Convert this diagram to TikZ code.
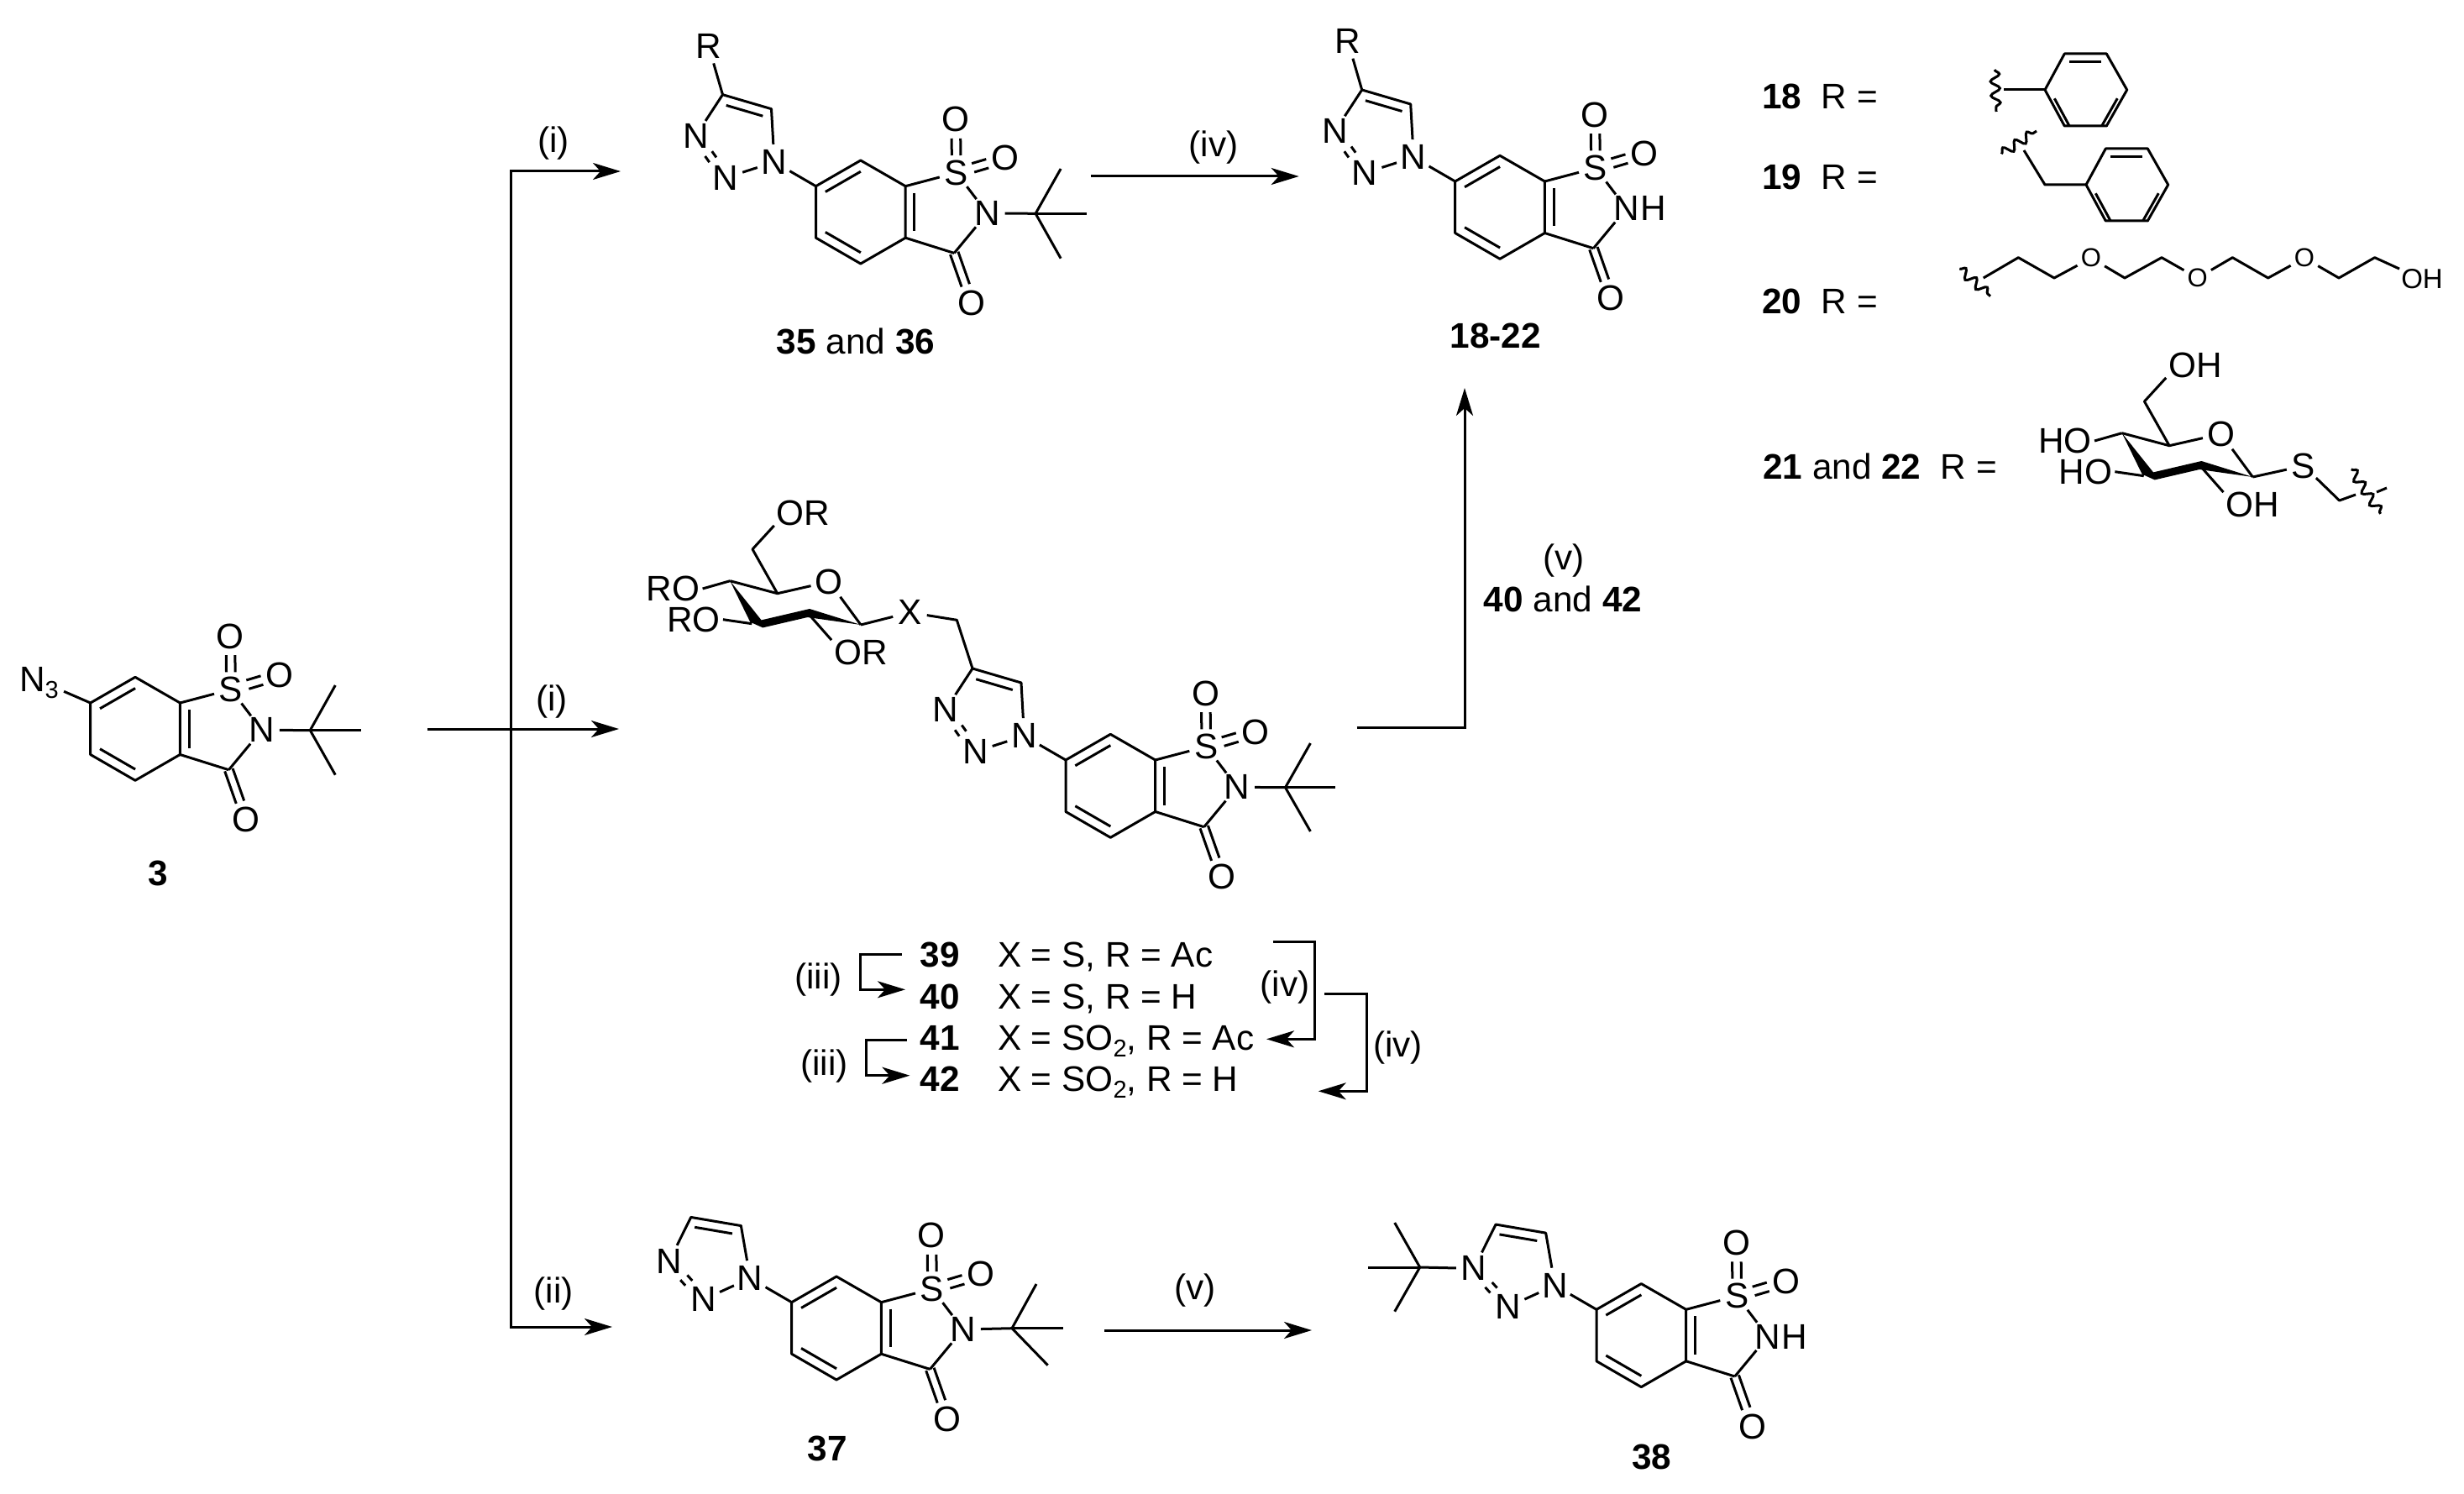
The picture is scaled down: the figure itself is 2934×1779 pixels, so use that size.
\documentclass[tikz,border=0pt]{standalone}
\usepackage{fontspec}
\setmainfont{Liberation Sans}
\usetikzlibrary{arrows.meta,decorations.pathmorphing}

\newcommand{\schemefont}{\fontsize{42.3}{42.3}\selectfont}
\newcommand{\subs}[1]{\raisebox{-8pt}{\fontsize{29}{29}\selectfont #1}}

\tikzset{
	atom/.style={circle,inner sep=0pt,minimum size=41pt},
	atomsm/.style={circle,inner sep=0pt,minimum size=37pt,font=\fontsize{31}{31}\selectfont},
	chemlabel/.style={inner xsep=3pt,inner ysep=0pt},
	txtline/.style={anchor=base west,inner sep=0pt},
	cmpd/.style={inner sep=0pt,font=\schemefont\bfseries},
	cond/.style={inner sep=0pt},
	bond/.style={line width=3pt,line join=round},
	inring/.style n args={3}{transform canvas={xshift=#1pt,yshift=#2pt},shorten >=#3pt,shorten <=#3pt},
	wavy/.style={line width=3pt,decorate,decoration={snake,segment length=17pt,amplitude=5.5pt}},
	rxn/.style={line width=3pt,-{Stealth[length=33pt,width=20pt,inset=9pt]}}
}

% benzisothiazole core, origin on the carbon that carries the substituent
\newcommand{\sacc}[2]{%
\begin{scope}[shift={#2}]
	\coordinate (#1c6) at (0,0);
	\coordinate (#1c7) at (53.3,-30.7);
	\coordinate (#1c7a) at (106.7,0);
	\coordinate (#1c3a) at (106.7,61.5);
	\coordinate (#1c4) at (53.3,92.3);
	\coordinate (#1c5) at (0,61.5);
	\coordinate (#1c3) at (164.7,79.7);
	\node[atom] (#1s) at (167.3,-16) {S};
	\node[atom] (#1n) at (204,32.3) {N};
	\node[atom] (#1oa) at (166.7,-79.3) {O};
	\node[atom] (#1ob) at (225.7,-33.3) {O};
	\node[atom] (#1oc) at (185.7,139.3) {O};
	\draw[bond] (#1c6) -- (#1c7) -- (#1c7a) -- (#1c3a) -- (#1c4) -- (#1c5) -- cycle;
	\draw[bond,inring={5.7}{-10}{6.5}] (#1c6) -- (#1c7);
	\draw[bond,inring={5.7}{10}{6.5}] (#1c5) -- (#1c4);
	\draw[bond,inring={10.7}{0}{8}] (#1c7a) -- (#1c3a);
	\draw[bond] (#1c7a) -- (#1s);
	\draw[bond] (#1s) -- (#1n);
	\draw[bond] (#1n) -- (#1c3);
	\draw[bond] (#1c3a) -- (#1c3);
	\draw[bond,transform canvas={xshift=-5.3pt}] (#1s) -- (#1oa);
	\draw[bond,transform canvas={xshift=5.3pt}] (#1s) -- (#1oa);
	\draw[bond,transform canvas={xshift=-1.5pt,yshift=5.2pt}] (#1s) -- (#1ob);
	\draw[bond,transform canvas={xshift=1.5pt,yshift=-5.2pt}] (#1s) -- (#1ob);
	\draw[bond,transform canvas={xshift=-4.7pt,yshift=-1.7pt}] (#1c3) -- (#1oc);
	\draw[bond,transform canvas={xshift=4.7pt,yshift=1.7pt}] (#1c3) -- (#1oc);
\end{scope}}

% triazole on the core, #3 turns it round N1
\newcommand{\triaz}[3]{%
\begin{scope}[shift={#2},rotate around={#3:(-49.5,-28.7)}]
	\node[atom] (#1na) at (-49.5,-28.7) {N};
	\node[atom] (#1nb) at (-107.5,-10) {N};
	\node[atom] (#1nc) at (-143,-60) {N};
	\coordinate (#1ca) at (-111,-109);
	\coordinate (#1cb) at (-53,-92);
	\draw[bond] (#1nc) -- (#1ca) -- (#1cb) -- (#1na) -- (#1nb);
	\draw[bond,inring={-3}{-10.6}{7.5}] (#1ca) -- (#1cb);
	\draw[bond,shorten >=5pt,shorten <=5pt,transform canvas={xshift=4.1pt,yshift=2.9pt}] (#1nc) -- (#1nb);
	\draw[bond,shorten >=5pt,shorten <=5pt,transform canvas={xshift=-4.1pt,yshift=-2.9pt}] (#1nc) -- (#1nb);
	\draw[bond] (#1na) -- (#1c6);
\end{scope}}

% name, N it sits on, centre, three methyls
\newcommand{\tbu}[6]{%
	\coordinate (#1c) at #3;
	\coordinate (#1a) at #4;
	\coordinate (#1b) at #5;
	\coordinate (#1d) at #6;
	\draw[bond] (#2) -- (#1c);
	\draw[bond] (#1a) -- (#1c) -- (#1d);
	\draw[bond] (#1c) -- (#1b);
}

% pyranose, origin on C4
\newcommand{\glyco}[4]{%
\begin{scope}[shift={#2}]
	\coordinate (#1c4) at (0,0);
	\coordinate (#1c5) at (56.4,15);
	\coordinate (#1c6) at (26.7,-37.7);
	\coordinate (#1c1) at (155.7,52.3);
	\coordinate (#1c2) at (94,40);
	\coordinate (#1c3) at (26,51);
	\node[atom] (#1o) at (118,1) {O};
	\node[chemlabel] (#1la) at (87.4,-81) {#4};
	\node[chemlabel] (#1lb) at (-67.6,9.3) {#3};
	\node[chemlabel] (#1lc) at (-43.3,46) {#3};
	\node[chemlabel] (#1ld) at (155.7,85.6) {#4};
	\fill (#1c4) -- (37.3,46.7) -- (94.7,33.3) -- (#1c1) -- (92.3,43.3) -- (39,55.7) -- (24,49) -- cycle;
	\draw[bond] (#1c1) -- (#1o) -- (#1c5) -- (#1c4);
	\draw[bond] (#1c5) -- (#1c6) -- (#1la.south west);
	\draw[bond] (#1c4) -- (#1lb.east);
	\draw[bond] (#1c3) -- (#1lc.east);
	\draw[bond] (#1c2) -- (#1ld.north west);
\end{scope}}

% phenyl, origin on the ipso carbon
\newcommand{\phen}[2]{%
\begin{scope}[shift={#2}]
	\coordinate (#1a) at (0,0);
	\coordinate (#1b) at (23.3,-43);
	\coordinate (#1c) at (73.3,-43);
	\coordinate (#1d) at (97.7,0);
	\coordinate (#1e) at (73.3,43);
	\coordinate (#1f) at (23.3,43);
	\draw[bond] (#1a) -- (#1b) -- (#1c) -- (#1d) -- (#1e) -- (#1f) -- cycle;
	\draw[bond,inring={0}{-9.5}{6}] (#1b) -- (#1c);
	\draw[bond,inring={-8.5}{-5}{6}] (#1d) -- (#1e);
	\draw[bond,inring={8.5}{-5}{6}] (#1a) -- (#1f);
\end{scope}}

\begin{document}
\begin{tikzpicture}[x=1pt,y=-1pt,every node/.style={font=\schemefont}]
\useasboundingbox (0,0) rectangle (2934,1779);

% azide 3
\sacc{az}{(107.7,837)}
\node[anchor=base west,inner ysep=0pt,inner xsep=6pt] (azd) at (17,823.3) {N\subs{3}};
\draw[bond] (azc6) -- (azd.base east);
\tbu{azt}{azn}{(369.3,869.6)}{(399.3,816)}{(430,869.6)}{(399.3,922.7)}
\node[cmpd] (l3) at (188,1040) {3};

% top row
\sacc{ta}{(971.5,221.7)}
\triaz{ta}{(971.5,221.7)}{0}
\node[atom] (tar) at (843.8,55) {R};
\draw[bond] (tar) -- (taca);
\tbu{tat}{tan}{(1233.1,254.3)}{(1263.1,201)}{(1293.5,254.3)}{(1263.1,307.7)}
\node[cmpd] (l35) at (1019,406.7) {35 \textmd{and} 36};

\sacc{tb}{(1732.7,216)}
\triaz{tb}{(1732.7,216)}{0}
\node[atom] (tbr) at (1605,49.3) {R};
\draw[bond] (tbr) -- (tbca);
\node[atom] (tbh) at (1968.7,248.3) {H};
\node[cmpd] (l18) at (1780.7,400) {18-22};

% R groups
\node[txtline] (r18) at (2098,130) {\textbf{18}~~R =};
\node[txtline] (r19) at (2098,226) {\textbf{19}~~R =};
\node[txtline] (r20) at (2098,373) {\textbf{20}~~R =};
\node[txtline] (r21) at (2099,570) {\textbf{21} and \textbf{22}~~R =};

\phen{pa}{(2435,107)}
\coordinate (wa1) at (2375,83);
\coordinate (wa2) at (2377,133);
\coordinate (wa3) at (2386,107);
\draw[wavy] (wa1) -- (wa2);
\draw[bond] (wa3) -- (paa);

\phen{pb}{(2484,220)}
\coordinate (wb1) at (2383.3,183.3);
\coordinate (wb2) at (2425,156);
\coordinate (wb3) at (2410,179);
\coordinate (bnz) at (2435,220);
\draw[wavy] (wb1) -- (wb2);
\draw[bond] (wb3) -- (bnz) -- (pba);

\coordinate (wc1) at (2333.3,320);
\coordinate (wc2) at (2370,352.7);
\coordinate (pc1) at (2361.7,331);
\coordinate (pc2) at (2403.3,306.7);
\coordinate (pc3) at (2446,331);
\node[atomsm] (po1) at (2490,307.3) {O};
\coordinate (pc4) at (2530,331);
\coordinate (pc5) at (2574,306.7);
\node[atomsm] (po2) at (2616.7,331) {O};
\coordinate (pc6) at (2658.3,306.7);
\coordinate (pc7) at (2700.7,331);
\node[atomsm] (po3) at (2744,307.3) {O};
\coordinate (pc8) at (2785,331);
\coordinate (pc9) at (2827.7,306.7);
\node[inner xsep=2pt,inner ysep=0pt,font=\fontsize{33}{33}\selectfont] (poh) at (2884,332) {OH};
\draw[wavy] (wc1) -- (wc2);
\draw[bond] (pc1) -- (pc2) -- (pc3) -- (po1) -- (pc4) -- (pc5) -- (po2) -- (pc6) -- (pc7) -- (po3) -- (pc8) -- (pc9) -- (poh.north west);

\glyco{gb}{(2526.7,515.7)}{HO}{OH}
\node[atom] (gbs) at (2743,554.7) {S};
\coordinate (gbm) at (2785.6,596);
\coordinate (gbt1) at (2805,589);
\coordinate (gbt2) at (2830,586);
\coordinate (gbt3) at (2842,581);
\coordinate (wd1) at (2799.7,558.8);
\coordinate (wd2) at (2834.7,611.8);
\draw[bond] (gbc1) -- (gbs) -- (gbm) -- (gbt1);
\draw[bond] (gbt2) -- (gbt3);
\draw[wavy] (wd1) -- (wd2);

% middle compound
\glyco{ga}{(869.3,691.7)}{RO}{OR}
\sacc{md}{(1269,905)}
\triaz{md}{(1269,905)}{0}
\node[atom] (mdx) at (1083.3,729.3) {X};
\coordinate (mdm) at (1139.3,738.3);
\draw[bond] (gac1) -- (mdx) -- (mdm) -- (mdca);
\tbu{mdt}{mdn}{(1530.5,937.7)}{(1560.4,885)}{(1590,937.7)}{(1560.4,990)}

% table under it
\node[txtline,font=\schemefont\bfseries] (t39) at (1095.7,1151.7) {39};
\node[txtline,font=\schemefont\bfseries] (t40) at (1095.7,1201.7) {40};
\node[txtline,font=\schemefont\bfseries] (t41) at (1095.7,1250.7) {41};
\node[txtline,font=\schemefont\bfseries] (t42) at (1095.7,1299.3) {42};
\node[txtline] (x39) at (1187.8,1151.7) {X = S, R = Ac};
\node[txtline] (x40) at (1187.8,1201.7) {X = S, R = H};
\node[txtline] (x41) at (1187.8,1250.7) {X = SO\subs{2}, R = Ac};
\node[txtline] (x42) at (1187.8,1299.3) {X = SO\subs{2}, R = H};

\coordinate (ia) at (1073.7,1136.7);
\coordinate (ib) at (1024.4,1136.7);
\coordinate (ic) at (1078,1178.3);
\draw[rxn] (ia) -- (ib) |- (ic);
\node[cond] (iii1) at (974.6,1166.7) {(iii)};
\coordinate (ja) at (1079.6,1238.3);
\coordinate (jb) at (1031.4,1238.3);
\coordinate (jc) at (1083.4,1280.7);
\draw[rxn] (ja) -- (jb) |- (jc);
\node[cond] (iii2) at (981.6,1270) {(iii)};
\coordinate (ka) at (1516,1121.7);
\coordinate (kb) at (1565.4,1121.7);
\coordinate (kc) at (1508,1237.3);
\draw[rxn] (ka) -- (kb) |- (kc);
\node[cond] (iv1) at (1530,1176) {(iv)};
\coordinate (la) at (1577,1183.3);
\coordinate (lb) at (1627,1183.3);
\coordinate (lc) at (1569.7,1299.3);
\draw[rxn] (la) -- (lb) |- (lc);
\node[cond] (iv2) at (1664.5,1247.7) {(iv)};

% bottom row
\sacc{ba}{(942.7,1550.7)}
\triaz{ba}{(942.7,1550.7)}{6.7}
\tbu{bat}{ban}{(1205,1581.7)}{(1234,1529)}{(1265.7,1581.7)}{(1247.7,1625.7)}
\node[cmpd] (l37) at (985,1725) {37};

\sacc{bb}{(1901,1559.3)}
\triaz{bb}{(1901,1559.3)}{6.7}
\node[atom] (bbh) at (2137,1591.6) {H};
\tbu{bbt}{bbnc}{(1690.7,1509)}{(1660.7,1456)}{(1629.3,1509)}{(1660.7,1561.7)}
\node[cmpd] (l38) at (1966.7,1735) {38};

% arrows
\coordinate (st) at (509,868);
\coordinate (jn) at (608,868);
\coordinate (ea) at (739,204);
\coordinate (eb) at (737,868);
\coordinate (ec) at (729,1580);
\draw[rxn] (st) -- (eb);
\draw[rxn] (jn) |- (ea);
\draw[rxn] (jn) |- (ec);
\node[cond] (c1) at (659,171) {(i)};
\node[cond] (c2) at (657,836) {(i)};
\node[cond] (c3) at (659,1541) {(ii)};

\coordinate (fa) at (1298.5,210);
\coordinate (fb) at (1546.7,210);
\draw[rxn] (fa) -- (fb);
\node[cond] (c4) at (1445,176) {(iv)};

\coordinate (ga) at (1615.5,866);
\coordinate (gb) at (1744,866);
\coordinate (gc) at (1744,462);
\draw[rxn] (ga) -- (gb) -- (gc);
\node[cond] (c5) at (1862,668) {(v)};
\node[cond] (c6) at (1861,713) {\textbf{40} and \textbf{42}};

\coordinate (ha) at (1315,1584);
\coordinate (hb) at (1562,1584);
\draw[rxn] (ha) -- (hb);
\node[cond] (c7) at (1423,1537) {(v)};
\end{tikzpicture}
\end{document}
